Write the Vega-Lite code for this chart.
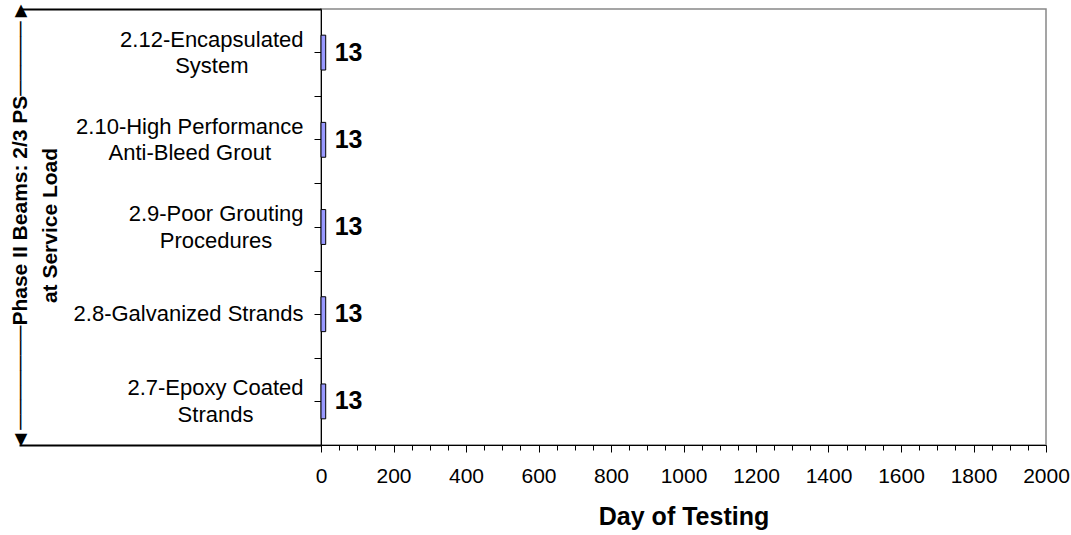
{
  "$schema": "https://vega.github.io/schema/vega-lite/v6.json",
  "width": 725,
  "height": 436,
  "autosize": "none",
  "padding": {"left": 321, "top": 9, "right": 25, "bottom": 90},
  "background": "white",
  "config": {
    "view": {"stroke": "#888888", "strokeWidth": 1.5},
    "font": "Liberation Sans, DejaVu Sans"
  },
  "data": {
    "values": [
      {"beam": "2.12-Encapsulated\nSystem", "day": 13},
      {"beam": "2.10-High Performance\nAnti-Bleed Grout", "day": 13},
      {"beam": "2.9-Poor Grouting\nProcedures", "day": 13},
      {"beam": "2.8-Galvanized Strands", "day": 13},
      {"beam": "2.7-Epoxy Coated\nStrands", "day": 13}
    ]
  },
  "encoding": {
    "x": {
      "field": "day",
      "type": "quantitative",
      "scale": {"domain": [0, 2000], "nice": false, "zero": true},
      "axis": {
        "values": [0, 50, 100, 150, 200, 250, 300, 350, 400, 450, 500, 550, 600, 650, 700, 750, 800, 850, 900, 950, 1000, 1050, 1100, 1150, 1200, 1250, 1300, 1350, 1400, 1450, 1500, 1550, 1600, 1650, 1700, 1750, 1800, 1850, 1900, 1950, 2000],
        "format": "d",
        "labelExpr": "datum.value % 200 === 0 ? datum.label : ''",
        "tickSize": {"condition": {"test": "datum.value % 200 === 0", "value": 7}, "value": 5},
        "tickColor": "black",
        "tickWidth": 1,
        "domainColor": "black",
        "domainWidth": 1,
        "labelFontSize": 21,
        "labelColor": "black",
        "labelPadding": 13,
        "labelFlush": false,
        "labelOverlap": false,
        "labelBound": false,
        "grid": false,
        "title": "Day of Testing",
        "titleFontSize": 25,
        "titleFontWeight": "bold",
        "titleColor": "black",
        "titlePadding": 18
      }
    }
  },
  "layer": [
    {
      "mark": {"type": "bar", "fill": "#9999FF", "stroke": "black", "strokeWidth": 1, "height": {"band": 0.4}},
      "encoding": {
        "y": {
          "field": "beam",
          "type": "nominal",
          "sort": ["2.12-Encapsulated\nSystem", "2.10-High Performance\nAnti-Bleed Grout", "2.9-Poor Grouting\nProcedures", "2.8-Galvanized Strands", "2.7-Epoxy Coated\nStrands"],
          "scale": {"paddingInner": 0, "paddingOuter": 0},
          "axis": {
            "title": ["◄───────Phase II Beams: 2/3 PS─────►", "at Service Load"],
            "titleFontSize": 21,
            "titleFontWeight": "bold",
            "titleColor": "black",
            "titleLineHeight": 30,
            "titleBaseline": "middle",
            "titleAlign": "center",
            "titleAngle": -90,
            "titleX": -301,
            "titleY": 216,
            "labelExpr": "split(datum.label, '\\n')",
            "labelFontSize": 22,
            "labelColor": "black",
            "labelLineHeight": 26.5,
            "labelAlign": "center",
            "labelBaseline": "middle",
            "labelLimit": 500,
            "labelOffset": {"condition": {"test": "datum.index === 0.75", "value": 0}, "value": -13},
            "labelPadding": {
              "condition": [
                {"test": "datum.index === 0", "value": 102.7},
                {"test": "datum.index === 0.25", "value": 124.7},
                {"test": "datum.index === 0.5", "value": 98.4},
                {"test": "datum.index === 0.75", "value": 126}
              ],
              "value": 99
            },
            "tickColor": "black",
            "tickSize": 7,
            "tickWidth": 1,
            "domainColor": "black",
            "domainWidth": 1,
            "grid": false
          }
        }
      }
    },
    {
      "mark": {"type": "text", "align": "left", "baseline": "middle", "dx": 9, "fontSize": 25, "fontWeight": "bold", "color": "black"},
      "encoding": {
        "y": {
          "field": "beam",
          "type": "nominal",
          "sort": ["2.12-Encapsulated\nSystem", "2.10-High Performance\nAnti-Bleed Grout", "2.9-Poor Grouting\nProcedures", "2.8-Galvanized Strands", "2.7-Epoxy Coated\nStrands"],
          "axis": {
            "orient": "left",
            "labels": false,
            "domain": false,
            "title": null,
            "grid": false,
            "tickBand": "extent",
            "tickColor": "black",
            "tickSize": {"condition": {"test": "datum.index === 1 || datum.index < 0", "value": 302}, "value": 7},
            "tickWidth": {"condition": {"test": "datum.index === 1 || datum.index < 0", "value": 2}, "value": 1}
          }
        },
        "text": {"field": "day", "type": "quantitative"}
      }
    }
  ],
  "resolve": {"axis": {"y": "independent"}}
}
